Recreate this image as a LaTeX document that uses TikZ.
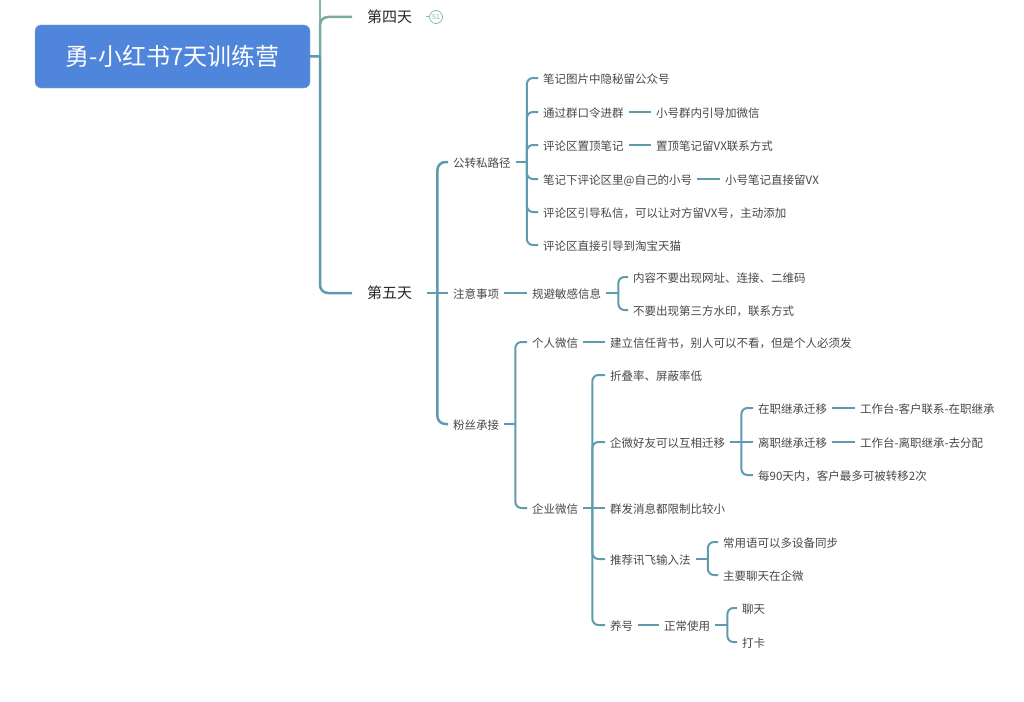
\documentclass[tikz,border=0pt]{standalone}
\usepackage{fontspec}
\setmainfont{Noto Sans CJK SC}
\usepackage{xcolor}
\usetikzlibrary{positioning}
\definecolor{linkc}{HTML}{5E9BAC}
\definecolor{topc}{HTML}{9CC48F}
\definecolor{rootc}{HTML}{4F86DB}
\definecolor{leafc}{HTML}{474747}
\definecolor{badgec}{HTML}{7FBFA6}
\tikzset{
    rootbox/.style={fill=rootc, draw=rootc!70!white, rounded corners=6pt, minimum width=275pt, minimum height=63pt, inner sep=0pt, text=white, font=\fontsize{24}{28}\selectfont},
    topic/.style={anchor=west, inner xsep=15pt, text height=1.25em, text depth=0.1em, text=black!85, font=\fontsize{15}{18}\selectfont},
    sub/.style={anchor=west, inner xsep=5pt, inner ysep=2pt, text height=1.2em, text depth=0.1em, text=leafc, font=\fontsize{11.5}{14}\selectfont},
    badge/.style={circle, draw=badgec, line width=0.8pt, inner sep=0pt, minimum size=13pt, text=badgec, font=\fontsize{7}{7}\selectfont},
    trunk/.style={draw=linkc, line width=2.5pt, rounded corners=8pt},
    link/.style={draw=linkc, line width=2pt, rounded corners=6pt},
    br/.style={to path={|- (\tikztotarget) \tikztonodes}}
}
\begin{document}
\begin{tikzpicture}[x=1pt, y=-1pt]
                        \useasboundingbox (0,0) rectangle (1024,701);

                        \node[rootbox] (root) at (172.5,56.5) {勇-小红书7天训练营};
                        \coordinate (top) at (320,0);
                        \coordinate (t) at (320,56.5);
                        \node[topic] (d4) at (352,17) {第四天};
                        \node[topic] (d5) at (352,293) {第五天};
                        \node[badge] (n51) at (436,17) {51};

                        \draw[trunk, draw=topc!70!linkc] (top) -- (t);
                        \draw[trunk, draw=linkc!60!topc] (t) |- (d4.west);
                        \draw[trunk] (root.east) -- (t) (t) |- (d5.west);
                        \draw[badgec, line width=1pt] (n51.west) -- ++(-3,0);

                        \node[sub] (gzs) at (448,162) {公转私路径};
                        \node[sub] (zysx) at (448,293) {注意事项};
                        \node[sub] (fscj) at (448,424) {粉丝承接};
                        \coordinate (s5) at ([xshift=10pt]d5.east);

                        \node[sub] (a1) at (538,78) {笔记图片中隐秘留公众号};
                        \node[sub] (a2) at (538,112) {通过群口令进群};
                        \node[sub] (a3) at (538,145) {评论区置顶笔记};
                        \node[sub] (a4) at (538,179) {笔记下评论区里@自己的小号};
                        \node[sub] (a5) at (538,212) {评论区引导私信，可以让对方留VX号，主动添加};
                        \node[sub] (a6) at (538,245) {评论区直接引导到淘宝天猫};
                        \node[sub] (a2x) at (651,112) {小号群内引导加微信};
                        \node[sub] (a3x) at (651,145) {置顶笔记留VX联系方式};
                        \node[sub] (a4x) at (720,179) {小号笔记直接留VX};
                        \coordinate (s1) at ([xshift=11pt]gzs.east);

                        \node[sub] (gbmg) at (527,293) {规避敏感信息};
                        \node[sub] (b1) at (628,277) {内容不要出现网址、连接、二维码};
                        \node[sub] (b2) at (628,310) {不要出现第三方水印，联系方式};
                        \coordinate (s2) at ([xshift=12pt]gbmg.east);

                        \node[sub] (c1) at (527,342) {个人微信};
                        \node[sub] (c2) at (527,508) {企业微信};
                        \node[sub] (c1x) at (605,342) {建立信任背书，别人可以不看，但是个人必须发};
                        \coordinate (s3) at ([xshift=11pt]fscj.east);

                        \node[sub] (e1) at (605,375) {折叠率、屏蔽率低};
                        \node[sub] (e2) at (605,442) {企微好友可以互相迁移};
                        \node[sub] (e3) at (605,508) {群发消息都限制比较小};
                        \node[sub] (e4) at (605,559) {推荐讯飞输入法};
                        \node[sub] (e5) at (605,625) {养号};
                        \coordinate (s4) at ([xshift=9pt]c2.east);

                        \node[sub] (f1) at (753,408) {在职继承迁移};
                        \node[sub] (f2) at (753,442) {离职继承迁移};
                        \node[sub] (f3) at (753,475) {每90天内，客户最多可被转移2次};
                        \node[sub] (f1x) at (855,408) {工作台-客户联系-在职继承};
                        \node[sub] (f2x) at (855,442) {工作台-离职继承-去分配};
                        \coordinate (s6) at ([xshift=11pt]e2.east);

                        \node[sub] (g1) at (718,542) {常用语可以多设备同步};
                        \node[sub] (g2) at (718,575) {主要聊天在企微};
                        \coordinate (s7) at ([xshift=12pt]e4.east);

                        \node[sub] (e5x) at (659,625) {正常使用};
                        \node[sub] (h1) at (737,608) {聊天};
                        \node[sub] (h2) at (737,642) {打卡};
                        \coordinate (s8) at ([xshift=12pt]e5x.east);

                        \draw[trunk]
                        (d5.east) -- (s5)
                        (s5) edge[br] (gzs.west)
                        (s5) edge (zysx.west)
                        (s5) edge[br] (fscj.west);

                        \draw[link]
                        (gzs.east) -- (s1)
                        (s1) edge[br] (a1.west)
                        (s1) edge[br] (a2.west)
                        (s1) edge[br] (a3.west)
                        (s1) edge[br] (a4.west)
                        (s1) edge[br] (a5.west)
                        (s1) edge[br] (a6.west)
                        (a2) edge (a2x)
                        (a3) edge (a3x)
                        (a4) edge (a4x)
                        (zysx) edge (gbmg)
                        (gbmg.east) -- (s2)
                        (s2) edge[br] (b1.west)
                        (s2) edge[br] (b2.west)
                        (fscj.east) -- (s3)
                        (s3) edge[br] (c1.west)
                        (s3) edge[br] (c2.west)
                        (c1) edge (c1x)
                        (c2.east) -- (s4)
                        (s4) edge[br] (e1.west)
                        (s4) edge[br] (e2.west)
                        (s4) edge (e3.west)
                        (s4) edge[br] (e4.west)
                        (s4) edge[br] (e5.west)
                        (e2.east) -- (s6)
                        (s6) edge[br] (f1.west)
                        (s6) edge (f2.west)
                        (s6) edge[br] (f3.west)
                        (f1) edge (f1x)
                        (f2) edge (f2x)
                        (e4.east) -- (s7)
                        (s7) edge[br] (g1.west)
                        (s7) edge[br] (g2.west)
                        (e5) edge (e5x)
                        (e5x.east) -- (s8)
                        (s8) edge[br] (h1.west)
                        (s8) edge[br] (h2.west);
                    \end{tikzpicture}
\end{document}
